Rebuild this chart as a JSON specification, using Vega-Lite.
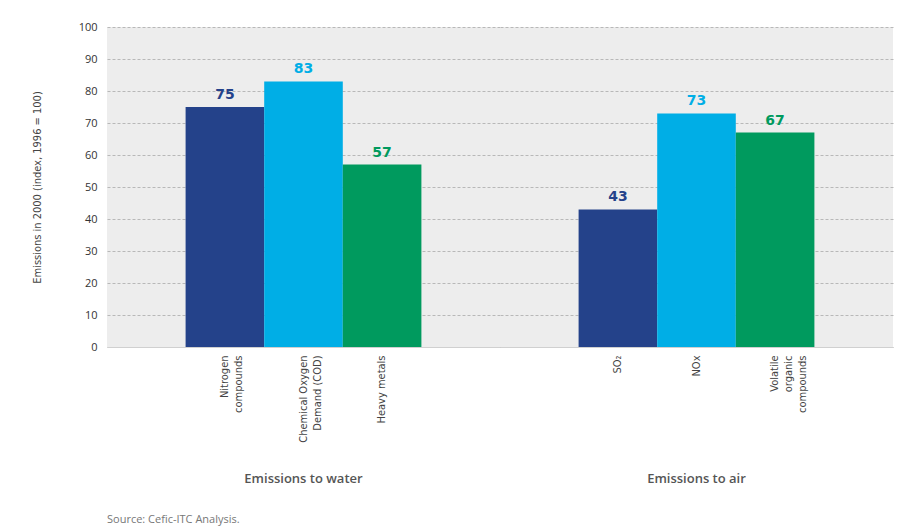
{
  "$schema": "https://vega.github.io/schema/vega-lite/v6.json",
  "background": "white",
  "padding": {"left": 31, "top": 21, "right": 5, "bottom": 3},
  "data": {
    "values": [
      {"group": "Emissions to water", "pollutant": "Nitrogen|compounds", "value": 75},
      {"group": "Emissions to water", "pollutant": "Chemical Oxygen|Demand (COD)", "value": 83},
      {"group": "Emissions to water", "pollutant": "Heavy metals", "value": 57},
      {"group": "Emissions to air", "pollutant": "SO₂", "value": 43},
      {"group": "Emissions to air", "pollutant": "NOx", "value": 73},
      {"group": "Emissions to air", "pollutant": "Volatile|organic|compounds", "value": 67}
    ]
  },
  "title": {
    "text": "Source: Cefic-ITC Analysis.",
    "orient": "bottom",
    "anchor": "start",
    "frame": "group",
    "fontSize": 11,
    "font": "Open Sans",
    "fontWeight": "normal",
    "color": "#777777",
    "offset": 28
  },
  "facet": {
    "column": {
      "field": "group",
      "type": "nominal",
      "sort": ["Emissions to water", "Emissions to air"],
      "header": {
        "title": null,
        "labelOrient": "bottom",
        "labelFontSize": 13,
        "labelFont": "Open Sans",
        "labelColor": "#555555",
        "labelFontWeight": 600,
        "labelPadding": 30
      }
    }
  },
  "spacing": 0,
  "resolve": {"scale": {"x": "independent"}},
  "spec": {
    "width": 393,
    "height": 320,
    "encoding": {
      "x": {
        "field": "pollutant",
        "type": "nominal",
        "sort": null,
        "scale": {"paddingInner": 0, "paddingOuter": 1},
        "axis": {
          "title": null,
          "labelAngle": -90,
          "labelExpr": "split(datum.label, '|')",
          "labelLineHeight": 14,
          "labelFontSize": 11,
          "labelFont": "Liberation Sans Narrow, DejaVu Sans Condensed, sans-serif",
          "labelColor": "#444444",
          "ticks": false,
          "domain": true,
          "domainColor": "#d0d0d0",
          "labelPadding": 8
        }
      },
      "y": {
        "field": "value",
        "type": "quantitative",
        "scale": {"domain": [0, 100]},
        "axis": {
          "title": "Emissions in 2000 (index, 1996 = 100)",
          "titleFontSize": 11,
          "titleFont": "Liberation Sans Narrow, DejaVu Sans Condensed, sans-serif",
          "titleFontWeight": "normal",
          "titleColor": "#444444",
          "titlePadding": 36,
          "values": [0, 10, 20, 30, 40, 50, 60, 70, 80, 90, 100],
          "labelFontSize": 11,
          "labelFont": "Open Sans",
          "labelColor": "#333333",
          "labelPadding": 10,
          "ticks": false,
          "domain": false,
          "grid": true,
          "gridDash": [3, 2],
          "gridColor": "#b8b8b8"
        }
      },
      "color": {
        "field": "pollutant",
        "type": "nominal",
        "legend": null,
        "scale": {
          "domain": ["Nitrogen|compounds", "Chemical Oxygen|Demand (COD)", "Heavy metals", "SO₂", "NOx", "Volatile|organic|compounds"],
          "range": ["#24428a", "#00aee6", "#009a5e", "#24428a", "#00aee6", "#009a5e"]
        }
      }
    },
    "layer": [
      {"mark": {"type": "bar"}},
      {
        "mark": {"type": "text", "baseline": "bottom", "dy": -5, "fontSize": 14, "fontWeight": "bold", "font": "DejaVu Sans"},
        "encoding": {"text": {"field": "value", "type": "quantitative"}}
      }
    ]
  },
  "config": {"view": {"fill": "#ededed", "stroke": null}}
}
